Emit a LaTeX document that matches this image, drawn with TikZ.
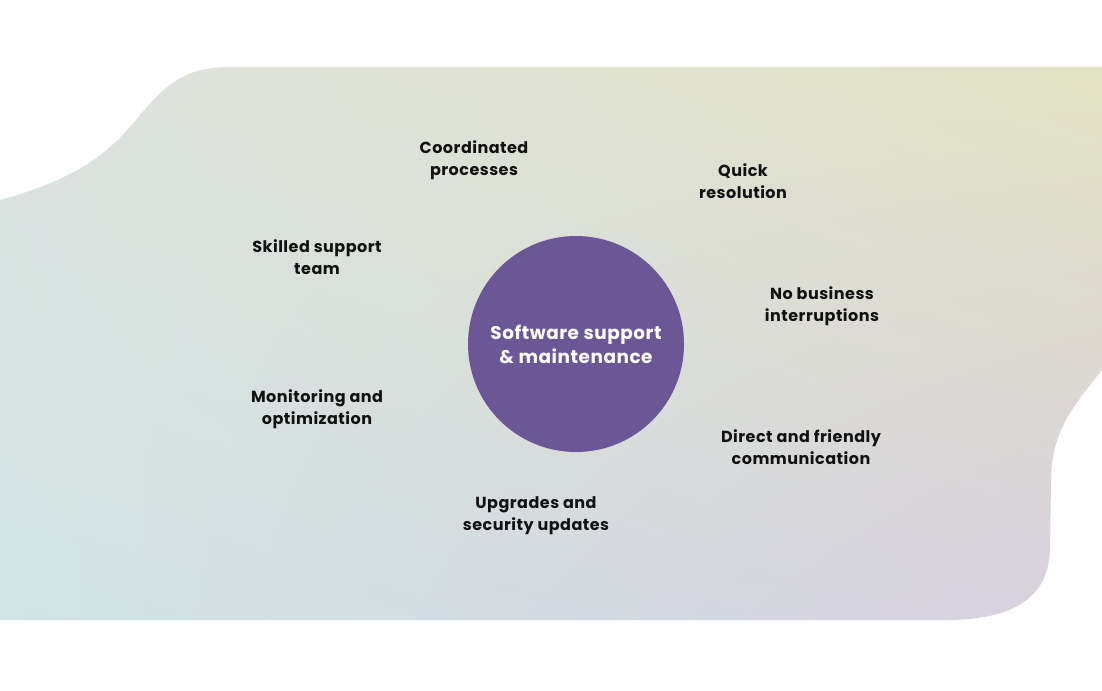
\documentclass[tikz,border=0pt]{standalone}
\usepackage{fontspec}
\usetikzlibrary{shadings}
\setmainfont{Poppins}[LetterSpace=3]
\definecolor{circ}{HTML}{6B5796}
\definecolor{txt}{HTML}{111111}
\definecolor{bgTL}{HTML}{DDE2DF}
\definecolor{bgTR}{HTML}{E2E2C4}
\definecolor{bgBL}{HTML}{D0E4E4}
\definecolor{bgBR}{HTML}{D8D0DE}
\begin{document}
\begin{tikzpicture}[x=0.75pt,y=-0.75pt,
  lbl/.style={font=\bfseries\fontsize{12}{16.5}\selectfont, text=txt, align=center, inner sep=0pt},
  hub/.style={circle, fill=circ, minimum size=162pt, inner sep=0pt, text=white, align=center,
     font=\bfseries\fontsize{13.8}{18}\selectfont}]
\useasboundingbox (0,0) rectangle (1102,690);
\fill[white] (0,0) rectangle (1102,690);
\shade[upper left=bgTL, upper right=bgTR, lower left=bgBL, lower right=bgBR]
  (0,200) .. controls (80,178) and (110,152) .. (140,115)
  .. controls (170,80) and (188,67) .. (232,67)
  -- (1102,67) -- (1102,370)
  .. controls (1070,410) and (1052,432) .. (1051,480)
  -- (1050,550) .. controls (1048,600) and (1010,619) .. (950,620)
  -- (0,620) -- cycle;
\node[hub] (c) at (576,344) {Software support\\\& maintenance};
\node[lbl] (a) at (474,160.5) {Coordinated\\processes};
\node[lbl] (b) at (743,181) {Quick\\resolution};
\node[lbl] (s) at (317,257.5) {Skilled support\\team};
\node[lbl] (n) at (822,306.5) {No business\\interruptions};
\node[lbl] (m) at (317,409.5) {Monitoring and\\optimization};
\node[lbl] (d) at (801,447.5) {Direct and friendly\\communication};
\node[lbl] (u) at (536,515.5) {Upgrades and\\security updates};
\end{tikzpicture}
\end{document}
